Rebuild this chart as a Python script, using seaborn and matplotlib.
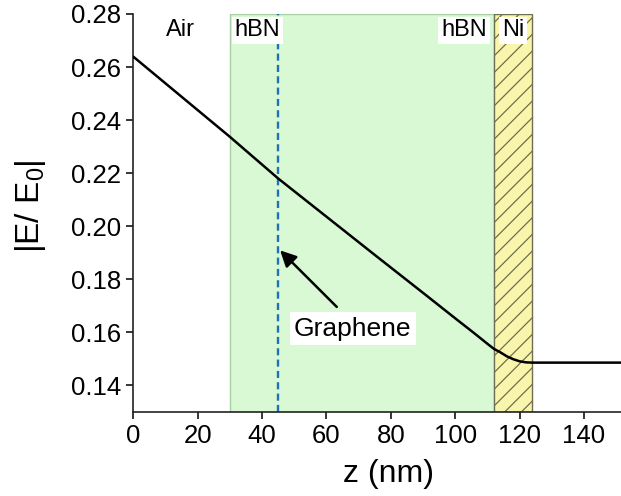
import matplotlib
matplotlib.use("Agg")
import matplotlib.pyplot as plt
import seaborn as sns
import numpy as np

# ---- data ----
z_nm = [0, 30, 45, 60, 75, 90, 100, 106, 110, 112, 114, 116, 118, 120, 122, 124, 152]
field = [0.2639, 0.2337, 0.2180, 0.2036, 0.1892, 0.1749, 0.1653, 0.1596, 0.1557,
         0.1538, 0.1525, 0.1510, 0.1499, 0.1491, 0.1487, 0.1486, 0.1486]
hbn_span = (30, 112)
ni_span = (112, 124)
graphene_z = 45
x_ticks = [0, 20, 40, 60, 80, 100, 120, 140]
y_ticks = [0.14, 0.16, 0.18, 0.20, 0.22, 0.24, 0.26, 0.28]
layer_names = ["Air", "hBN", "hBN", "Ni"]
layer_x = [14.5, 31.5, 109.8, 117.9]
layer_y = [0.2738, 0.2738, 0.2738, 0.2738]
layer_ha = ["center", "left", "right", "center"]
arrow_tip = (45.6, 0.1909)
arrow_tail = (63.2, 0.1696)
graphene_text_pos = (68.1, 0.1614)

sns.set_style("ticks")
plt.rcParams["font.family"] = ["Liberation Sans", "DejaVu Sans"]
plt.rcParams["mathtext.fontset"] = "custom"
plt.rcParams["mathtext.rm"] = "Liberation Sans"
plt.rcParams["mathtext.it"] = "Liberation Sans"
plt.rcParams["mathtext.default"] = "regular"
plt.rcParams["text.color"] = "black"
plt.rcParams["axes.labelcolor"] = "black"
plt.rcParams["hatch.color"] = "#8c8a5a"
plt.rcParams["hatch.linewidth"] = 0.9

fig = plt.figure(figsize=(6.21, 4.96), dpi=100)
ax = fig.add_axes([0.2147, 0.1694, 0.7853, 0.8024])

# regions
ax.axvspan(*hbn_span, facecolor="#d8f9d4", edgecolor="#a8cfa4", lw=1.0, zorder=0)
ax.axvspan(*ni_span, facecolor="#faf5ac", edgecolor="#6e6e50", lw=1.0,
           hatch="//", zorder=0.5)
ax.axvline(graphene_z, color="#1f72b8", lw=1.7, ls=(0, (3.0, 1.8)), zorder=2)

sns.lineplot(x=z_nm, y=field, color="black", lw=1.8, ax=ax, zorder=3)

ax.set_xlim(0, 151.5)
ax.set_ylim(0.13, 0.28)
ax.set_xticks(x_ticks)
ax.set_yticks(y_ticks)
ax.set_yticklabels([f"{v:.2f}" for v in y_ticks])
ax.tick_params(axis="both", direction="out", length=5, width=1.1,
               labelsize=18.5, pad=4.0, colors="black")
for s in ["left", "bottom"]:
    ax.spines[s].set_linewidth(1.2)
    ax.spines[s].set_color("#222222")
sns.despine(ax=ax, top=True, right=True)

ax.set_xlabel("z (nm)", fontsize=23, color="black")
ax.set_ylabel("|E/ E$_0$|", fontsize=24, color="black")
ax.xaxis.set_label_coords(0.524, -0.118)
ax.yaxis.set_label_coords(-0.175, 0.518)

for name, x, y, ha in zip(layer_names, layer_x, layer_y, layer_ha):
    ax.text(x, y, name, ha=ha, va="center", fontsize=17, zorder=4, color="black",
            bbox=dict(facecolor="white", edgecolor="none", pad=2.0))

ax.annotate("", xy=arrow_tip, xytext=arrow_tail,
            arrowprops=dict(arrowstyle="-|>", color="black", lw=1.8,
                            mutation_scale=24, shrinkA=0, shrinkB=0), zorder=4)
ax.text(*graphene_text_pos, "Graphene", ha="center", va="center", fontsize=19,
        zorder=4, color="black",
        bbox=dict(facecolor="white", edgecolor="none", pad=3.0))

fig.savefig("out.png", dpi=100)
